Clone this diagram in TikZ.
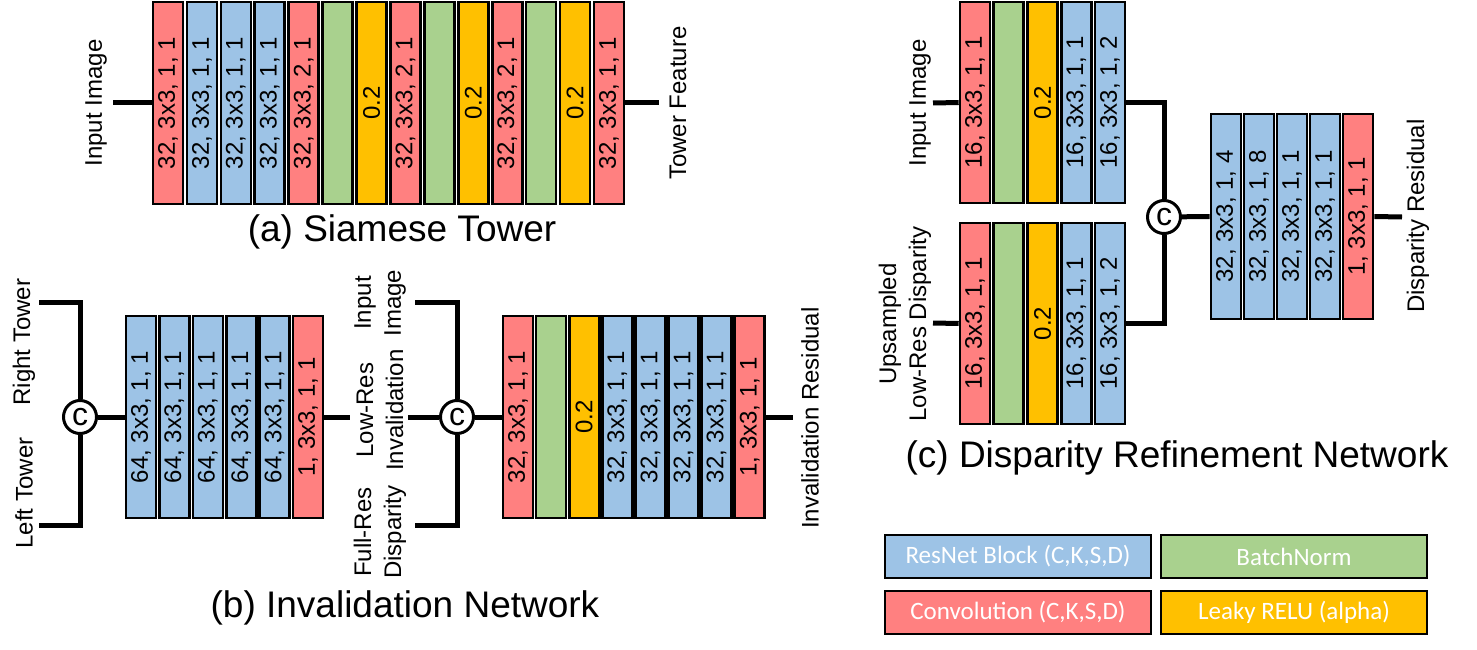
\documentclass[tikz,border=0pt]{standalone}
\usepackage{fontspec}
\setmainfont{Liberation Sans}
\newfontfamily\legendfont{Carlito}
\definecolor{cred}{RGB}{255,128,128}
\definecolor{cblue}{RGB}{157,195,230}
\definecolor{cgreen}{RGB}{169,209,142}
\definecolor{cyellow}{RGB}{255,192,0}
\begin{document}
\begin{tikzpicture}[x=1pt,y=-1pt,
  blk/.style={draw=black, line width=2.6pt, rotate=90, inner sep=0pt, minimum height=30pt, font=\fontsize{24}{28}\selectfont},
  wire/.style={line width=5pt},
  cat/.style={circle, draw=black, fill=white, line width=3pt, minimum size=33pt, inner sep=0pt, font=\fontsize{32}{32}\selectfont},
  lbl/.style={rotate=90, align=center, font=\fontsize{24}{30}\selectfont, inner sep=0pt},
  captxt/.style={anchor=base, inner sep=0pt, font=\fontsize{37}{40}\selectfont},
  leg/.style={draw=black, line width=2.5pt, minimum width=266pt, minimum height=43pt, inner sep=0pt, text=white, font=\legendfont\fontsize{25}{28}\selectfont}]

\useasboundingbox (0,0) rectangle (1477,650);

% ---------------- (a) Siamese Tower ----------------
\foreach \c/\t [count=\i] in {cred/{32, 3x3, 1, 1}, cblue/{32, 3x3, 1, 1}, cblue/{32, 3x3, 1, 1}, cblue/{32, 3x3, 1, 1}, cred/{32, 3x3, 2, 1}, cgreen/{}, cyellow/{0.2}, cred/{32, 3x3, 2, 1}, cgreen/{}, cyellow/{0.2}, cred/{32, 3x3, 2, 1}, cgreen/{}, cyellow/{0.2}, cred/{32, 3x3, 1, 1}} {
  \node[blk, fill=\c, minimum width=202pt] (a\i) at ({168+33.92*(\i-1)},103) {\t};
}
\coordinate (ain) at (113,103);
\coordinate (aout) at (659,103);
\draw[wire] (ain) -- (a1.north);
\draw[wire] (a14.south) -- (aout);
\node[lbl] (lina) at (96,103) {Input Image};
\node[lbl] (louta) at (678,103) {Tower Feature};
\node[captxt] (capa) at (402,241) {(a) Siamese Tower};

% ---------------- (b) Invalidation Network ----------------
\foreach \c/\t [count=\i] in {cblue/{64, 3x3, 1, 1}, cblue/{64, 3x3, 1, 1}, cblue/{64, 3x3, 1, 1}, cblue/{64, 3x3, 1, 1}, cblue/{64, 3x3, 1, 1}, cred/{1, 3x3, 1, 1}} {
  \node[blk, fill=\c, minimum width=202pt] (b\i) at ({141+33.4*(\i-1)},417) {\t};
}
\node[cat] (cb1) at (80,417) {c};
\coordinate (rt) at (39,302);
\coordinate (lt) at (39,525);
\draw[wire] (rt) -| (cb1.north);
\draw[wire] (lt) -| (cb1.south);
\draw[wire] (cb1) -- (b1.north);
\coordinate (bout) at (350,417);
\draw[wire] (b6.south) -- (bout);
\node[lbl] (lrt) at (24,342) {Right Tower};
\node[lbl] (llt) at (24,493) {Left Tower};

\foreach \c/\t [count=\i] in {cred/{32, 3x3, 1, 1}, cgreen/{}, cyellow/{0.2}, cblue/{32, 3x3, 1, 1}, cblue/{32, 3x3, 1, 1}, cblue/{32, 3x3, 1, 1}, cblue/{32, 3x3, 1, 1}, cred/{1, 3x3, 1, 1}} {
  \node[blk, fill=\c, minimum width=202pt] (e\i) at ({518+33.1*(\i-1)},417) {\t};
}
\node[cat] (cb2) at (457,417) {c};
\coordinate (iin) at (415,302);
\coordinate (lrin) at (408,417);
\coordinate (frin) at (415,525);
\draw[wire] (iin) -| (cb2.north);
\draw[wire] (frin) -| (cb2.south);
\draw[wire] (lrin) -- (cb2);
\draw[wire] (cb2) -- (e1.north);
\coordinate (eout) at (793,417);
\draw[wire] (e8.south) -- (eout);
\node[lbl] (lii) at (380,303) {Input\\Image};
\node[lbl] (llr) at (380,410) {Low-Res\\Invalidation};
\node[lbl] (lfr) at (380,532) {Full-Res\\Disparity};
\node[lbl] (lir) at (810,418) {Invalidation Residual};
\node[captxt] (capb) at (405,617) {(b) Invalidation Network};

% ---------------- (c) Disparity Refinement Network ----------------
\foreach \c/\t [count=\i] in {cred/{16, 3x3, 1, 1}, cgreen/{}, cyellow/{0.2}, cblue/{16, 3x3, 1, 1}, cblue/{16, 3x3, 1, 2}} {
  \node[blk, fill=\c, minimum width=201pt] (c\i) at ({975+33.75*(\i-1)},102.5) {\t};
  \node[blk, fill=\c, minimum width=201pt] (g\i) at ({975+33.75*(\i-1)},323.5) {\t};
}
\foreach \c/\t [count=\i] in {cblue/{32, 3x3, 1, 4}, cblue/{32, 3x3, 1, 8}, cblue/{32, 3x3, 1, 1}, cblue/{32, 3x3, 1, 1}, cred/{1, 3x3, 1, 1}} {
  \node[blk, fill=\c, minimum width=205pt] (d\i) at ({1226+33*(\i-1)},216.5) {\t};
}
\node[cat] (cc) at (1164,217) {c};
\coordinate (cin) at (933,103);
\coordinate (gin) at (933,323);
\draw[wire] (cin) -- (c1.north);
\draw[wire] (gin) -- (g1.north);
\draw[wire] (c5.south) -| (cc.north);
\draw[wire] (g5.south) -| (cc.south);
\draw[wire] (cc) -- (d1.north);
\coordinate (dout) at (1402,217);
\draw[wire] (d5.south) -- (dout);
\node[lbl] (lci) at (920,103) {Input Image};
\node[lbl] (lcu) at (905,324) {Upsampled\\Low-Res Disparity};
\node[lbl] (ldr) at (1418,216) {Disparity Residual};
\node[captxt] (capc) at (1177,467) {(c) Disparity Refinement Network};

% ---------------- legend ----------------
\node[leg, fill=cblue] (leg1) at (1018,556.5) {ResNet Block (C,K,S,D)};
\node[leg, fill=cgreen] (leg2) at (1294,556.5) {BatchNorm};
\node[leg, fill=cred] (leg3) at (1018,612.5) {Convolution (C,K,S,D)};
\node[leg, fill=cyellow] (leg4) at (1294,612.5) {Leaky RELU (alpha)};
\end{tikzpicture}
\end{document}
